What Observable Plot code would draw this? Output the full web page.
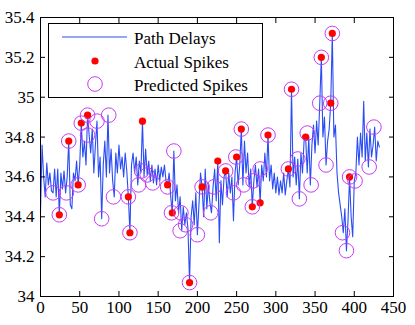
<!DOCTYPE html>
<html><head><meta charset="utf-8">
<script src="https://cdn.jsdelivr.net/npm/d3@7"></script>
<script src="https://cdn.jsdelivr.net/npm/@observablehq/plot@0.6"></script>
<style>
body{margin:0;background:#fff;}
#wrap{position:relative;width:415px;height:325px;}
#wrap svg text{font-family:"Liberation Serif","Times New Roman",serif !important;}
#legend{position:absolute;left:48px;top:23px;width:213px;height:73px;border:1px solid #000;background:#fff;}
#legend svg text{font-family:"Liberation Serif","Times New Roman",serif;font-size:17px;fill:#000;}
</style></head><body><div id="wrap"></div>
<script>
// Path delay samples (every 2nd sample index)
const delayValues = [
34.42,34.76,34.60,34.50,34.67,34.56,34.62,34.53,34.52,34.64,
34.50,34.64,34.41,34.62,34.54,34.63,34.52,34.60,34.78,34.46,
34.44,34.62,34.58,34.68,34.56,34.66,34.87,34.70,34.78,34.66,
34.91,34.81,34.72,34.84,34.62,34.76,34.88,34.60,34.70,34.39,
34.66,34.78,34.60,34.91,34.62,34.74,34.58,34.50,34.72,34.62,
34.76,34.64,34.70,34.60,34.72,34.63,34.50,34.32,34.66,34.72,
34.62,34.70,34.56,34.68,34.62,34.88,34.60,34.74,34.61,34.68,
34.58,34.66,34.57,34.64,34.56,34.66,34.58,34.65,34.60,34.66,
34.58,34.56,34.62,34.50,34.42,34.73,34.48,34.56,34.42,34.50,
34.33,34.45,34.36,34.42,34.34,34.07,34.40,34.48,34.36,34.52,
34.31,34.46,34.62,34.55,34.40,34.64,34.44,34.56,34.47,34.42,
34.55,34.64,34.48,34.68,34.27,34.58,34.46,34.60,34.63,34.50,
34.62,34.52,34.60,34.38,34.62,34.70,34.56,34.66,34.84,34.56,
34.78,34.62,34.72,34.55,34.64,34.45,34.58,34.66,34.55,34.64,
34.47,34.66,34.58,34.72,34.60,34.81,34.58,34.66,34.54,34.62,
34.52,34.60,34.51,34.58,34.52,34.62,34.51,34.58,34.64,34.55,
35.04,34.60,34.70,34.56,34.69,34.49,34.72,34.62,34.78,34.80,
34.62,34.80,34.56,34.76,34.86,34.72,34.88,34.76,34.97,35.20,
34.80,34.90,34.66,34.78,34.84,34.97,35.32,34.80,34.86,34.62,
34.52,34.46,34.40,34.32,34.44,34.23,34.38,34.60,34.40,34.30,
34.58,34.62,34.80,34.66,34.82,34.70,34.98,34.68,34.82,34.65,
34.84,34.70,34.76,34.85,34.68,34.78,34.75
];
const sampleStep = 2;

const actualX = [24,36,48,52,60,112,114,130,162,168,190,206,226,236,250,256,270,280,290,316,320,338,358,370,372,394];
const actualY = [34.41,34.78,34.56,34.87,34.91,34.50,34.32,34.88,34.56,34.42,34.07,34.55,34.68,34.63,34.70,34.84,34.45,34.47,34.81,34.64,35.04,34.80,35.20,34.97,35.32,34.60];

const predictedX = [16,24,33,36,48,52,60,60,72,78,87,93,112,114,125,129,136,143,162,167,170,179,178,185,190,200,206,217,221,236,246,249,256,259,271,270,280,290,316,320,328,330,340,345,356,358,364,370,372,385,390,394,401,419,425];
const predictedY = [34.52,34.41,34.52,34.78,34.56,34.87,34.91,34.81,34.88,34.39,34.91,34.50,34.50,34.32,34.56,34.63,34.61,34.57,34.55,34.42,34.73,34.42,34.33,34.36,34.07,34.31,34.55,34.42,34.55,34.63,34.52,34.70,34.84,34.56,34.58,34.45,34.64,34.81,34.64,35.04,34.69,34.49,34.82,34.56,34.97,35.20,34.66,34.97,35.32,34.32,34.23,34.60,34.58,34.65,34.85];

const xTicks = [0,50,100,150,200,250,300,350,400,450];
const xTickLabels = ["0","50","100","150","200","250","300","350","400","450"];
const yTicks = [34,34.2,34.4,34.6,34.8,35,35.2,35.4];
const yTickLabels = ["34","34.2","34.4","34.6","34.8","35","35.2","35.4"];

const legendLabels = ["Path Delays","Actual Spikes","Predicted Spikes"];

const lineColor = "#2a4cf5";
const dotColor = "#ff0000";
const ringColor = "#c43cf5";
const serif = "Liberation Serif";

const delays = delayValues.map((v, i) => ({x: i * sampleStep, y: v}));
const actual = actualX.map((x, i) => ({x, y: actualY[i]}));
const predicted = predictedX.map((x, i) => ({x, y: predictedY[i]}));

const chart = Plot.plot({
  width: 415, height: 325,
  marginLeft: 40, marginRight: 22, marginTop: 17, marginBottom: 29,
  x: {domain: [0, 450]},
  y: {domain: [34, 35.4]},
  style: {fontFamily: serif, fontSize: "17px", color: "#000", background: "#fff"},
  marks: [
    Plot.line(delays, {x: "x", y: "y", stroke: lineColor, strokeWidth: 1.1}),
    Plot.dot(actual, {x: "x", y: "y", r: 3.6, fill: dotColor, stroke: "none"}),
    Plot.dot(predicted, {x: "x", y: "y", r: 7.3, fill: "none", stroke: ringColor, strokeWidth: 1}),
    Plot.frame({stroke: "#000", strokeWidth: 1}),
    Plot.axisX(xTicks, {anchor: "bottom", tickSize: -5, tickPadding: 9, label: null, tickFormat: d => xTickLabels[xTicks.indexOf(d)], fontSize: 17, fontFamily: serif}),
    Plot.axisX(xTicks, {anchor: "top", tickSize: -5, tickPadding: 0, label: null, tickFormat: () => "", fontSize: 17}),
    Plot.axisY(yTicks, {anchor: "left", tickSize: -5, tickPadding: 11, label: null, tickFormat: d => yTickLabels[yTicks.indexOf(d)], fontSize: 17, fontFamily: serif}),
    Plot.axisY(yTicks, {anchor: "right", tickSize: -5, tickPadding: 0, label: null, tickFormat: () => "", fontSize: 17})
  ]
});
const wrap = document.getElementById("wrap");
wrap.appendChild(chart);

const legend = document.createElement("div");
legend.id = "legend";
legend.innerHTML = `<svg width="213" height="73">
<line x1="13" x2="78" y1="13" y2="13" stroke="${lineColor}" stroke-width="1"/>
<circle cx="46" cy="37" r="3.6" fill="${dotColor}"/>
<circle cx="46" cy="60" r="7.3" fill="none" stroke="${ringColor}" stroke-width="1"/>
<text x="85" y="20">${legendLabels[0]}</text>
<text x="85" y="43.5">${legendLabels[1]}</text>
<text x="85" y="67">${legendLabels[2]}</text>
</svg>`;
wrap.appendChild(legend);
</script>
</body></html>
